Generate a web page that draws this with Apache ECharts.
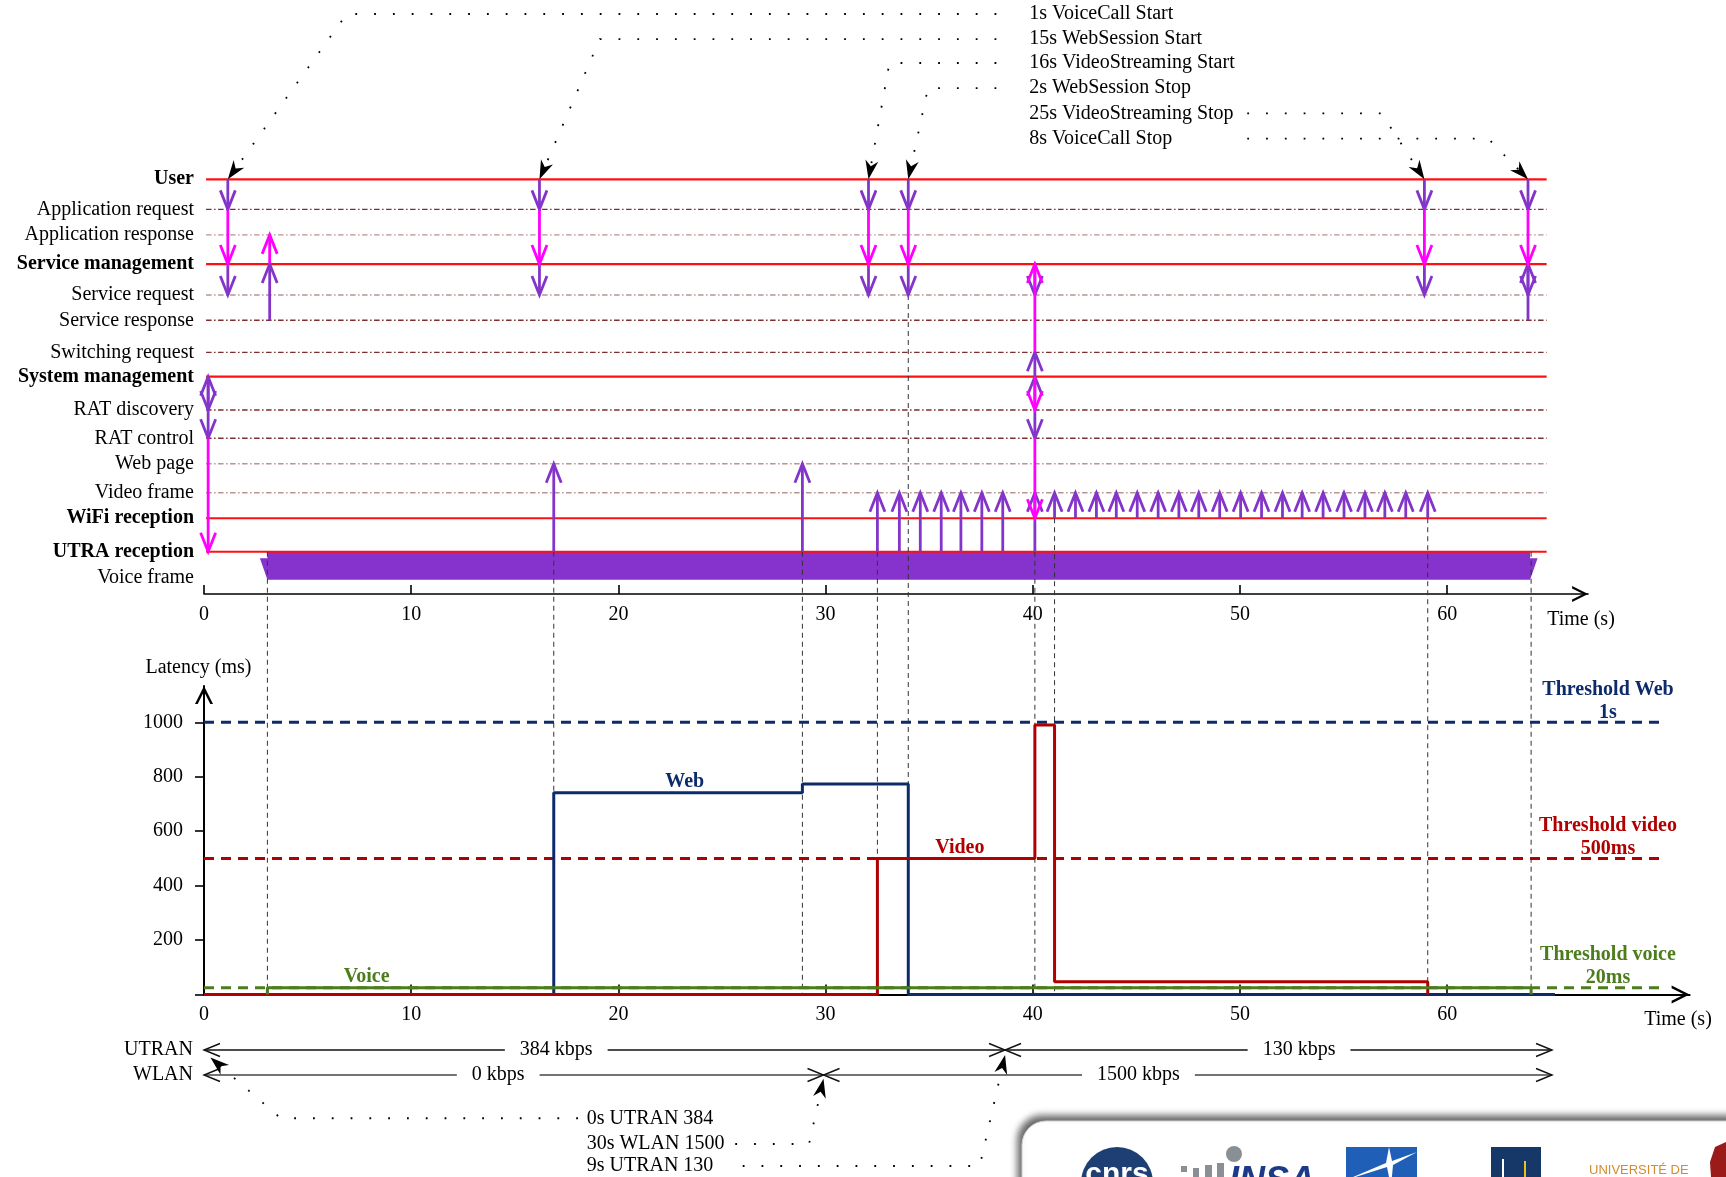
<!DOCTYPE html>
<html><head><meta charset="utf-8"><title>Latency timeline</title>
<script src="https://cdn.jsdelivr.net/npm/echarts@6.0.0/dist/echarts.min.js"></script>
<style>html,body{margin:0;padding:0;background:#fff;}#main{width:1726px;height:1177px;}</style>
</head><body><div id="main"></div>
<script>
// ---------------- data ----------------
const ROW_LABELS = ['User','Application request','Application response','Service management','Service request','Service response','Switching request','System management','RAT discovery','RAT control','Web page','Video frame','WiFi reception','UTRA reception','Voice frame'];
const ROW_BOLD = [1,0,0,1,0,0,0,1,0,0,0,0,1,1,0];
const ROW_LEVEL = [0,1.05,1.94,2.96,4.04,4.92,6.04,6.89,8.05,9.04,9.93,10.94,11.83,13.0,13.92];
const ROW_LINE_KIND = ['red','dark','light','red','light','dark','dark','red','dark','dark','light','light','red','red'];
const ROW_SPAN = [0.1, 64.8];
const TIME_TICKS = [0,10,20,30,40,50,60];

// [time (s), from row, to row, colour p=purple m=magenta]
const SIGNALS = [
  [1.15,0,1,'p'],[1.15,1,3,'m'],[1.15,3,4,'p'],
  [3.17,5,3,'p'],[3.17,3,2,'m'],
  [0.2,8,7,'p'],[0.2,7,8,'p'],[0.2,8,9,'p'],[0.2,9,13,'m'],
  [16.19,0,1,'p'],[16.19,1,3,'m'],[16.19,3,4,'p'],
  [32.07,0,1,'p'],[32.07,1,3,'m'],[32.07,3,4,'p'],
  [33.99,0,1,'p'],[33.99,1,3,'m'],[33.99,3,4,'p'],
  [40.1,13,11,'p'],[40.1,8,9,'p'],[40.1,8,7,'p'],[40.1,7,6,'p'],[40.1,3,4,'p'],
  [40.1,6,3,'m'],[40.1,7,8,'m'],[40.1,9,12,'m'],
  [58.9,0,1,'p'],[58.9,1,3,'m'],[58.9,3,4,'p'],
  [63.9,0,1,'p'],[63.9,1,3,'m'],[63.9,5,3,'p'],[63.9,3,4,'p']
];
const WEB_PAGE_TIMES = [16.88, 28.88];
const VIDEO_UTRA_TIMES = [32.5,33.56,34.57,35.58,36.53,37.54,38.55];
const VIDEO_WIFI_TIMES = [41.05,42.06,43.07,44.03,45.04,46.05,47.05,48.01,49.02,50.03,51.04,52.05,53.0,54.01,55.02,56.03,56.99,58.0,59.06];
const VOICE_FRAME = [3.06, 64.0];
const GUIDES = [[3.06,13],[16.88,13],[28.88,13],[32.5,13],[33.99,4],[40.1,13],[41.05,12],[59.06,12],[64.05,13]];

const EVENT_TEXT = ['1s VoiceCall Start','15s WebSession Start','16s VideoStreaming Start','2s WebSession Stop','25s VideoStreaming Stop','8s VoiceCall Stop'];
const EVENT_TIME = [1.15,16.19,32.07,33.99,58.9,63.9];
const EVENT_ROW = [-5.77,-4.89,-4.06,-3.18,-2.30,-1.42];
const EVENT_ELBOW = [6.89,19.1,33.08,34.94,56.83,61.98];
const EVENT_SIDE = ['L','L','L','L','R','R'];
const EVENT_TEXT_AT = 39.83, EVENT_LEADER_LEFT = 38.24, EVENT_LEADER_RIGHT = 50.35;

const LATENCY_TICKS = [0,200,400,600,800,1000];
const LATENCY_LABELS = [200,400,600,800,1000];
const WEB_LATENCY = [[0,0],[16.88,741],[28.88,773],[33.99,0],[65.2,0]];
const VIDEO_LATENCY = [[0,0],[32.5,500],[40.1,990],[41.05,47],[59.06,0]];
const VOICE_LATENCY = [[3.06,0],[3.06,25],[64.05,0]];
const THRESHOLD_NAMES = ['Threshold Web','Threshold video','Threshold voice'];
const THRESHOLD_SUB = ['1s','500ms','20ms'];
const THRESHOLD_VALUES = [1000,500,25];
const THRESHOLD_END = 70.4, THRESHOLD_LABEL_AT = 67.76;
const SERIES_NAMES = ['Web','Video','Voice'];
const SERIES_LABEL_AT = [[23.2,741],[36.48,500],[7.85,25]];

const BW_LABELS = ['UTRAN','WLAN'];
const BW_ROWS = [0,0,1,1];
const BW_FROM = [0,38.66,0,29.9];
const BW_TO = [38.66,65.06,29.9,65.06];
const BW_TEXT = ['384 kbps','130 kbps','0 kbps','1500 kbps'];
const BW_TEXT_AT = [17.0,52.85,14.2,45.1];

const SWITCH_TEXT = ['0s UTRAN 384','30s WLAN 1500','9s UTRAN 130'];
const SWITCH_ROW = [2.73,3.76,4.64];
const SWITCH_TIME = [0.31,29.9,38.66];
const SWITCH_TARGET_ROW = [0.3,1.15,0.2];
const SWITCH_ELBOW = [3.7,29.2,37.44];
const SWITCH_LEADER_FROM = [18.05,25.64,26.0];
const SWITCH_TEXT_AT = 18.47;

// ---------------- layout / style ----------------
const FONT = 'Liberation Serif';
const F20 = '20px "Liberation Serif"';
const FB20 = 'bold 20px "Liberation Serif"';
const X0 = 204, PXS = 20.72;
const TOP_Y = 179.3, ROW_PX = 28.65, ZERO_Y = 994.5, TOP_AXIS_Y = 594, LOW_TOP = 686, LAT_PX = 0.2722;
const TOP_X_MAX = 66.8, LOW_X_MAX = 71.7;
const TOP_Y_MAX = (ZERO_Y - TOP_Y) / ROW_PX;
const LOW_Y_MAX = (ZERO_Y - LOW_TOP) / LAT_PX;
const BW_TOP = 1050, BW_ROW_PX = 25;
const PURPLE = '#8435c9', MAGENTA = '#ff00ff';
const C_WEB = '#0d2b6b', C_VIDEO = '#b00000', C_VOICE = '#4c7d1c';
const THRESH_COLORS = [C_WEB, C_VIDEO, C_VOICE];
const SERIES_COLORS = [C_WEB, C_VIDEO, C_VOICE];
const CHEVRON = 'path://M0,20 L10,0 L20,20 L17,20 L10,6 L3,20 Z';

const ARROWS = []
  .concat(WEB_PAGE_TIMES.map(t => [t,13,10,'p']))
  .concat(VIDEO_UTRA_TIMES.map(t => [t,13,11,'p']))
  .concat(VIDEO_WIFI_TIMES.map(t => [t,12,11,'p']))
  .concat(SIGNALS);

function stealth(tip, from, L, W) {
  let dx = tip[0]-from[0], dy = tip[1]-from[1];
  const len = Math.hypot(dx, dy) || 1; dx /= len; dy /= len;
  const nx = -dy, ny = dx;
  const bx = tip[0]-dx*L, by = tip[1]-dy*L;
  const back = [tip[0]-dx*L*0.7, tip[1]-dy*L*0.7];
  return {points: [[tip[0],tip[1]],[bx+nx*W,by+ny*W],back,[bx-nx*W,by-ny*W]], back};
}
const DOTTED = {stroke:'#000', lineWidth:1.8, lineDash:[1.8,17], lineCap:'butt', fill:null};

const chart = echarts.init(document.getElementById('main'), null, {renderer:'canvas'});

const option = {
  animation: false,
  backgroundColor: '#fff',
  textStyle: {fontFamily: FONT},
  grid: [
    {left: X0, top: TOP_Y, width: TOP_X_MAX*PXS, height: ZERO_Y-TOP_Y, outerBoundsMode:'none', containLabel:false},
    {left: X0, top: LOW_TOP, width: LOW_X_MAX*PXS, height: ZERO_Y-LOW_TOP, outerBoundsMode:'none', containLabel:false},
    {left: X0, top: BW_TOP, width: LOW_X_MAX*PXS, height: BW_ROW_PX, outerBoundsMode:'none', containLabel:false}
  ],
  xAxis: [
    {gridIndex:0, type:'value', min:0, max:TOP_X_MAX, position:'bottom', offset: -(ZERO_Y-TOP_AXIS_Y),
      axisLine:{show:true, onZero:false, lineStyle:{color:'#000', width:1.6}, symbol:['none', CHEVRON], symbolSize:[16,16], symbolOffset:[0,-8]},
      axisTick:{show:true, inside:true, length:9, lineStyle:{color:'#000', width:1.6}, customValues:TIME_TICKS},
      axisLabel:{customValues:TIME_TICKS, margin:11, color:'#000', fontFamily:FONT, fontSize:20, formatter: v => String(v)},
      splitLine:{show:false}},
    {gridIndex:1, type:'value', min:0, max:LOW_X_MAX, position:'bottom',
      axisLine:{show:true, onZero:false, lineStyle:{color:'#000', width:2}, symbol:['none', CHEVRON], symbolSize:[18,18], symbolOffset:[0,-9]},
      axisTick:{show:true, inside:true, length:10, lineStyle:{color:'#000', width:1.6}, customValues:TIME_TICKS},
      axisLabel:{customValues:TIME_TICKS, margin:10, color:'#000', fontFamily:FONT, fontSize:20, formatter: v => String(v)},
      splitLine:{show:false}},
    {gridIndex:2, type:'value', min:0, max:LOW_X_MAX, show:false}
  ],
  yAxis: [
    {gridIndex:0, type:'value', min:0, max:TOP_Y_MAX, inverse:true,
      axisLine:{show:false}, axisTick:{show:false}, splitLine:{show:false},
      axisLabel:{customValues:ROW_LEVEL, margin:10,
        formatter: function (v) {
          let best = 0, d = 1e9;
          ROW_LEVEL.forEach((lv, i) => { if (Math.abs(lv - v) < d) { d = Math.abs(lv - v); best = i; } });
          return (ROW_BOLD[best] ? '{b|' : '{n|') + ROW_LABELS[best] + '}';
        },
        rich:{b:{fontFamily:FONT, fontSize:20, fontWeight:'bold', color:'#000'}, n:{fontFamily:FONT, fontSize:20, color:'#000'}}}},
    {gridIndex:1, type:'value', min:0, max:LOW_Y_MAX,
      axisLine:{show:true, onZero:false, lineStyle:{color:'#000', width:2}, symbol:['none', CHEVRON], symbolSize:[18,18], symbolOffset:[0,-9]},
      axisTick:{show:true, length:9, lineStyle:{color:'#000', width:1.6}, customValues:LATENCY_TICKS},
      axisLabel:{customValues:LATENCY_LABELS, margin:21, color:'#000', fontFamily:FONT, fontSize:20, formatter: v => String(v)},
      splitLine:{show:false},
      name:'Latency (ms)', nameLocation:'end', nameGap:8,
      nameTextStyle:{fontFamily:FONT, fontSize:20, color:'#000', padding:[0,11,0,0]}},
    {gridIndex:2, type:'value', min:0, max:1, inverse:true,
      axisLine:{show:false}, axisTick:{show:false}, splitLine:{show:false},
      axisLabel:{customValues:[0,1], margin:11, color:'#000', fontFamily:FONT, fontSize:20,
        formatter: v => BW_LABELS[Math.round(v)]}}
  ],
  series: [
    // voice frame bar
    {type:'custom', xAxisIndex:0, yAxisIndex:0, silent:true, data:[VOICE_FRAME],
      renderItem(params, api) {
        const a = api.coord([api.value(0), ROW_LEVEL[13]]);
        const b = api.coord([api.value(1), ROW_LEVEL[13]]);
        const h = 28, wy = 6.6, ww = 7.5;
        return {type:'polygon', shape:{points:[[a[0],a[1]],[b[0],b[1]],[b[0],a[1]+wy],[b[0]+ww,a[1]+wy],[b[0],a[1]+h],[a[0],a[1]+h],[a[0]-ww,a[1]+wy],[a[0],a[1]+wy]]},
          style:{fill:'#8533cc'}};
      }},
    // row lines
    {type:'custom', xAxisIndex:0, yAxisIndex:0, silent:true,
      data: ROW_LINE_KIND.map((k, i) => [ROW_SPAN[0], ROW_LEVEL[i]]),
      renderItem(params, api) {
        const i = params.dataIndex;
        const p1 = api.coord([ROW_SPAN[0], ROW_LEVEL[i]]), p2 = api.coord([ROW_SPAN[1], ROW_LEVEL[i]]);
        const k = ROW_LINE_KIND[i];
        const style = k === 'red' ? {stroke:'#ff1010', lineWidth:2.2}
          : {stroke: k === 'dark' ? '#7d2e2e' : '#b89494', lineWidth:1.4, lineDash:[5.5,2.5,1.5,2.5]};
        return {type:'line', shape:{x1:p1[0], y1:p1[1], x2:p2[0], y2:p2[1]}, style};
      }},
    // dashed guides (top rows down to latency zero)
    {type:'custom', xAxisIndex:0, yAxisIndex:0, silent:true,
      data: GUIDES.map(g => [g[0], ROW_LEVEL[g[1]]]),
      renderItem(params, api) {
        const p1 = api.coord([api.value(0), api.value(1)]);
        const p2 = api.coord([api.value(0), TOP_Y_MAX]);
        return {type:'line', shape:{x1:p1[0], y1:p1[1], x2:p2[0], y2:p2[1]}, style:{stroke:'#333', lineWidth:1, lineDash:[5,4]}};
      }},
    // signalling arrows
    {type:'custom', xAxisIndex:0, yAxisIndex:0, silent:true,
      data: ARROWS.map(a => [a[0], ROW_LEVEL[a[1]], ROW_LEVEL[a[2]]]),
      renderItem(params, api) {
        const a = ARROWS[params.dataIndex];
        const p0 = api.coord([api.value(0), api.value(1)]);
        const p1 = api.coord([api.value(0), api.value(2)]);
        const dir = p1[1] > p0[1] ? 1 : -1;
        const col = a[3] === 'm' ? MAGENTA : PURPLE;
        const z2 = a[3] === 'm' ? 3 : 2;
        const HL = 19, HW = 7.5;
        return {type:'group', children:[
          {type:'line', z2, shape:{x1:p0[0], y1:p0[1], x2:p1[0], y2:p1[1]}, style:{stroke:col, lineWidth:2.8}},
          {type:'polyline', z2, shape:{points:[[p1[0]-HW, p1[1]-dir*HL],[p1[0], p1[1]],[p1[0]+HW, p1[1]-dir*HL]]}, style:{stroke:col, lineWidth:2.8, fill:null}}
        ]};
      }},
    // event annotations (top)
    {type:'custom', xAxisIndex:0, yAxisIndex:0, silent:true,
      data: EVENT_TIME.map((t, i) => [t, EVENT_ROW[i]]),
      renderItem(params, api) {
        const i = params.dataIndex;
        const tip = api.coord([EVENT_TIME[i], ROW_LEVEL[0]]);
        const elbow = api.coord([EVENT_ELBOW[i], EVENT_ROW[i]]);
        const start = api.coord([EVENT_SIDE[i] === 'L' ? EVENT_LEADER_LEFT : EVENT_LEADER_RIGHT, EVENT_ROW[i]]);
        const tp = api.coord([EVENT_TEXT_AT, EVENT_ROW[i]]);
        const h = stealth(tip, elbow, 19, 6.5);
        return {type:'group', children:[
          {type:'polyline', shape:{points:[start, elbow, h.back]}, style:DOTTED},
          {type:'polygon', shape:{points:h.points}, style:{fill:'#000'}},
          {type:'text', style:{x:tp[0], y:tp[1], text:EVENT_TEXT[i], font:F20, fill:'#000', align:'left', verticalAlign:'middle', textAlign:'left', textVerticalAlign:'middle'}}
        ]};
      }},
    // thresholds
    ...THRESHOLD_VALUES.map((v, i) => ({
      type:'line', xAxisIndex:1, yAxisIndex:1, silent:true, symbol:'none',
      data:[[0, v],[THRESHOLD_END, v]],
      lineStyle:{color:THRESH_COLORS[i], width:3, type:[10,7]}
    })),
    // latency series
    {type:'line', name:'Web', xAxisIndex:1, yAxisIndex:1, silent:true, symbol:'none', step:'end', data:WEB_LATENCY, lineStyle:{color:C_WEB, width:3}},
    {type:'line', name:'Video', xAxisIndex:1, yAxisIndex:1, silent:true, symbol:'none', step:'end', data:VIDEO_LATENCY, lineStyle:{color:C_VIDEO, width:3}},
    {type:'line', name:'Voice', xAxisIndex:1, yAxisIndex:1, silent:true, symbol:'none', step:'end', data:VOICE_LATENCY, lineStyle:{color:C_VOICE, width:3}},
    // series names
    {type:'custom', xAxisIndex:1, yAxisIndex:1, silent:true, data:SERIES_LABEL_AT,
      renderItem(params, api) {
        const i = params.dataIndex;
        const p = api.coord([api.value(0), api.value(1)]);
        return {type:'text', style:{x:p[0], y:p[1]-1, text:SERIES_NAMES[i], font:FB20, fill:SERIES_COLORS[i], align:'center', verticalAlign:'bottom', textAlign:'center', textVerticalAlign:'bottom'}};
      }},
    // threshold labels
    {type:'custom', xAxisIndex:1, yAxisIndex:1, silent:true, data:THRESHOLD_VALUES.map(v => [THRESHOLD_LABEL_AT, v]),
      renderItem(params, api) {
        const i = params.dataIndex;
        const p = api.coord([api.value(0), api.value(1)]);
        return {type:'text', style:{x:p[0], y:p[1]+2, text:THRESHOLD_NAMES[i] + '\n' + THRESHOLD_SUB[i], font:FB20, lineHeight:23, fill:THRESH_COLORS[i], align:'center', verticalAlign:'bottom', textAlign:'center', textVerticalAlign:'bottom'}};
      }},
    // bandwidth arrows
    {type:'custom', xAxisIndex:2, yAxisIndex:2, silent:true, data:BW_FROM.map((f, i) => [f, BW_ROWS[i]]),
      renderItem(params, api) {
        const i = params.dataIndex;
        const a = api.coord([BW_FROM[i], BW_ROWS[i]]), b = api.coord([BW_TO[i], BW_ROWS[i]]);
        const t = api.coord([BW_TEXT_AT[i], BW_ROWS[i]]);
        const y = a[1], L = 16, W = 6.5;
        const col = BW_ROWS[i] === 0 ? '#111' : '#444';
        return {type:'group', children:[
          {type:'line', shape:{x1:a[0], y1:y, x2:b[0], y2:y}, style:{stroke:col, lineWidth:1.5}},
          {type:'polyline', shape:{points:[[a[0]+L, y-W],[a[0], y],[a[0]+L, y+W]]}, style:{stroke:'#111', lineWidth:1.4, fill:null}},
          {type:'polyline', shape:{points:[[b[0]-L, y-W],[b[0], y],[b[0]-L, y+W]]}, style:{stroke:'#111', lineWidth:1.4, fill:null}},
          {type:'text', z2:5, style:{x:t[0], y:y, text:BW_TEXT[i], font:F20, fill:'#000', align:'center', verticalAlign:'middle', textAlign:'center', textVerticalAlign:'middle', backgroundColor:'#fff', padding:[0,15]}}
        ]};
      }},
    // switch annotations (bottom)
    {type:'custom', xAxisIndex:2, yAxisIndex:2, silent:true, data:SWITCH_TIME.map((t, i) => [t, SWITCH_TARGET_ROW[i]]),
      renderItem(params, api) {
        const i = params.dataIndex;
        const tip = api.coord([SWITCH_TIME[i], SWITCH_TARGET_ROW[i]]);
        const elbow = api.coord([SWITCH_ELBOW[i], SWITCH_ROW[i]]);
        const start = api.coord([SWITCH_LEADER_FROM[i], SWITCH_ROW[i]]);
        const tp = api.coord([SWITCH_TEXT_AT, SWITCH_ROW[i]]);
        const h = stealth(tip, elbow, 19, 6.5);
        return {type:'group', children:[
          {type:'polyline', shape:{points:[start, elbow, h.back]}, style:DOTTED},
          {type:'polygon', shape:{points:h.points}, style:{fill:'#000'}},
          {type:'text', style:{x:tp[0], y:tp[1], text:SWITCH_TEXT[i], font:F20, fill:'#000', align:'left', verticalAlign:'middle', textAlign:'left', textVerticalAlign:'middle'}}
        ]};
      }}
  ],
  graphic: [
    {type:'text', silent:true, style:{x:1581, y:620, text:'Time (s)', font:F20, fill:'#000', align:'center', verticalAlign:'middle', textAlign:'center', textVerticalAlign:'middle'}},
    {type:'text', silent:true, style:{x:1678, y:1020, text:'Time (s)', font:F20, fill:'#000', align:'center', verticalAlign:'middle', textAlign:'center', textVerticalAlign:'middle'}},
    // logo panel
    {type:'rect', silent:true, shape:{x:1022, y:1121, width:760, height:140, r:24},
      style:{fill:'#fff', stroke:'#d0d0d0', lineWidth:1, shadowBlur:7, shadowOffsetX:-4, shadowOffsetY:-5, shadowColor:'rgba(0,0,0,0.6)'}},
    {type:'circle', silent:true, shape:{cx:1117, cy:1183, r:36}, style:{fill:'#1e3f73'}},
    {type:'text', silent:true, style:{x:1117, y:1160, text:'cnrs', font:'bold 30px "Liberation Sans"', fill:'#fff', align:'center', verticalAlign:'top', textAlign:'center', textVerticalAlign:'top'}},
    {type:'circle', silent:true, shape:{cx:1234, cy:1154, r:8}, style:{fill:'#8a8f96'}},
    {type:'rect', silent:true, shape:{x:1181, y:1166, width:6, height:6}, style:{fill:'#8a8f96'}},
    {type:'rect', silent:true, shape:{x:1193, y:1168, width:6, height:9}, style:{fill:'#8a8f96'}},
    {type:'rect', silent:true, shape:{x:1205, y:1165, width:7, height:12}, style:{fill:'#8a8f96'}},
    {type:'rect', silent:true, shape:{x:1217, y:1163, width:7, height:14}, style:{fill:'#8a8f96'}},
    {type:'text', silent:true, style:{x:1229, y:1164, text:'INSA', font:'italic bold 36px "Liberation Sans"', fill:'#1b3a8a', align:'left', verticalAlign:'top', textAlign:'left', textVerticalAlign:'top'}},
    {type:'rect', silent:true, shape:{x:1346, y:1147, width:71, height:40}, style:{fill:'#1f5fb8'}},
    {type:'polygon', silent:true, shape:{points:[[1389,1147],[1392,1161],[1417,1152],[1393,1165],[1391,1187],[1387,1167],[1346,1180],[1386,1163]]}, style:{fill:'#fff'}},
    {type:'rect', silent:true, shape:{x:1491, y:1147, width:50, height:40}, style:{fill:'#163868'}},
    {type:'rect', silent:true, shape:{x:1502, y:1159, width:2, height:28}, style:{fill:'#fff'}},
    {type:'rect', silent:true, shape:{x:1524, y:1161, width:2, height:26}, style:{fill:'#e8c21a'}},
    {type:'text', silent:true, style:{x:1589, y:1170, text:'UNIVERSITÉ DE', font:'13px "Liberation Sans"', fill:'#d68a2c', align:'left', verticalAlign:'middle', textAlign:'left', textVerticalAlign:'middle'}},
    {type:'polygon', silent:true, shape:{points:[[1710,1162],[1715,1147],[1726,1142],[1726,1177],[1711,1177]]}, style:{fill:'#9b1b1b'}}
  ]
};
chart.setOption(option);
</script>
</body></html>
